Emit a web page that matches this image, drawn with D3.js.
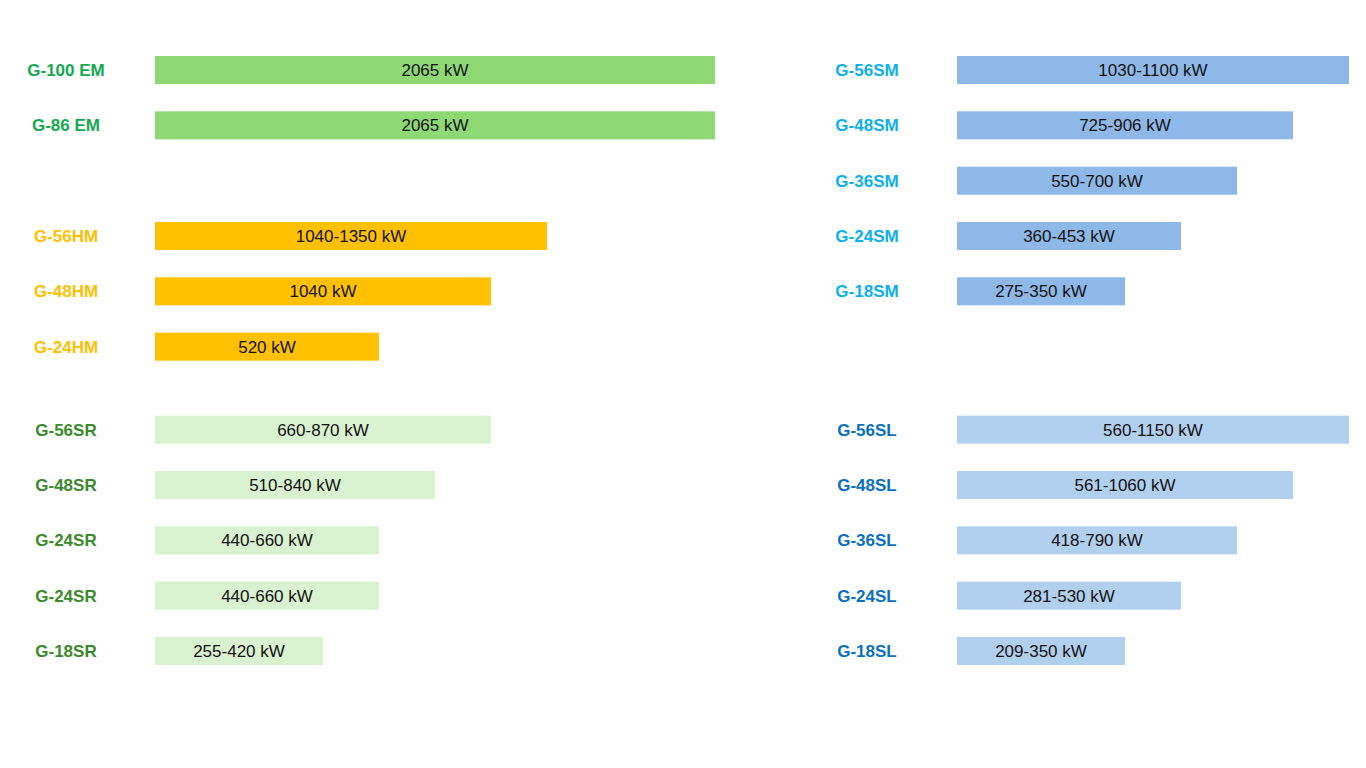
<!DOCTYPE html>
<html>
<head>
<meta charset="utf-8">
<script src="https://cdn.jsdelivr.net/npm/d3@7"></script>
<style>
  body { margin: 0; background: #fff; }
  svg { display: block; font-family: "Liberation Sans", Arial, Helvetica, sans-serif; }
</style>
</head>
<body>
<svg width="1366" height="768"></svg>
<script>
// left column
var emNames = ["G-100 EM", "G-86 EM"];
var emPower = ["2065 kW", "2065 kW"];
var emLength = [10, 10];
var emSlots = [0, 1];

var hmNames = ["G-56HM", "G-48HM", "G-24HM"];
var hmPower = ["1040-1350 kW", "1040 kW", "520 kW"];
var hmLength = [7, 6, 4];
var hmSlots = [3, 4, 5];

var srNames = ["G-56SR", "G-48SR", "G-24SR", "G-24SR", "G-18SR"];
var srPower = ["660-870 kW", "510-840 kW", "440-660 kW", "440-660 kW", "255-420 kW"];
var srLength = [6, 5, 4, 4, 3];
var srSlots = [6.5, 7.5, 8.5, 9.5, 10.5];

// right column
var smNames = ["G-56SM", "G-48SM", "G-36SM", "G-24SM", "G-18SM"];
var smPower = ["1030-1100 kW", "725-906 kW", "550-700 kW", "360-453 kW", "275-350 kW"];
var smLength = [7, 6, 5, 4, 3];
var smSlots = [0, 1, 2, 3, 4];

var slNames = ["G-56SL", "G-48SL", "G-36SL", "G-24SL", "G-18SL"];
var slPower = ["560-1150 kW", "561-1060 kW", "418-790 kW", "281-530 kW", "209-350 kW"];
var slLength = [7, 6, 5, 4, 3];
var slSlots = [6.5, 7.5, 8.5, 9.5, 10.5];

var groups = [
  { col: 0, names: emNames, power: emPower, len: emLength, slots: emSlots, bar: "#8fd975", label: "#14a94f" },
  { col: 0, names: hmNames, power: hmPower, len: hmLength, slots: hmSlots, bar: "#ffc000", label: "#ffc000" },
  { col: 0, names: srNames, power: srPower, len: srLength, slots: srSlots, bar: "#d9f2d0", label: "#3b8a2b" },
  { col: 1, names: smNames, power: smPower, len: smLength, slots: smSlots, bar: "#8db8e8", label: "#0cb0ee" },
  { col: 1, names: slNames, power: slPower, len: slLength, slots: slSlots, bar: "#b1cfef", label: "#0a70c4" }
];

var barH = 28;
var colX = [155, 957];
var labelX = [66, 867];

var x = d3.scaleLinear().domain([0, 10]).range([0, 560]);
var y = d3.scaleLinear().domain([0, 10.5]).range([70, 651]);

var svg = d3.select("svg");

groups.forEach(function (g) {
  var rows = g.names.map(function (n, i) {
    return { name: n, power: g.power[i], len: g.len[i], slot: g.slots[i] };
  });
  var gg = svg.append("g").attr("transform", "translate(" + colX[g.col] + ",0)");

  gg.selectAll("rect")
    .data(rows)
    .enter()
    .append("rect")
    .attr("x", 0)
    .attr("y", function (d) { return y(d.slot) - barH / 2; })
    .attr("width", function (d) { return x(d.len); })
    .attr("height", barH)
    .attr("fill", g.bar);

  gg.selectAll(".power")
    .data(rows)
    .enter()
    .append("text")
    .attr("class", "power")
    .attr("x", function (d) { return x(d.len) / 2; })
    .attr("y", function (d) { return y(d.slot); })
    .attr("dy", "0.35em")
    .attr("text-anchor", "middle")
    .attr("font-size", 17)
    .attr("fill", "#111")
    .text(function (d) { return d.power; });

  svg.selectAll(null)
    .data(rows)
    .enter()
    .append("text")
    .attr("x", labelX[g.col])
    .attr("y", function (d) { return y(d.slot); })
    .attr("dy", "0.35em")
    .attr("text-anchor", "middle")
    .attr("font-size", 17)
    .attr("font-weight", "bold")
    .attr("fill", g.label)
    .text(function (d) { return d.name; });
});
</script>
</body>
</html>
